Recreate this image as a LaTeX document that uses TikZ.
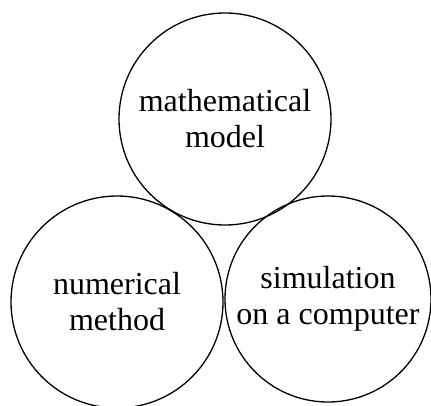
\documentclass[tikz,border=0pt]{standalone}
\usepackage{fontspec}
\setmainfont{Liberation Serif}
\usepackage{tikz}
\usetikzlibrary{positioning, calc}

\begin{document}
\begin{tikzpicture}[x=1pt, y=1pt,
  bolha/.style={draw, circle, line width=1.3pt, inner sep=0pt, align=center,
    font=\fontsize{32}{36}\selectfont}]
% --- AREA DO DESENHO ---
\useasboundingbox (0,0) rectangle (431,405);

% LAYER 1: Circulo de cima
\node[bolha, minimum size=212pt] (modelo) at (225,286) {mathematical\\model};

% LAYER 2: Circulos de baixo
\node[bolha, minimum size=212pt] (metodo) at (117,103) {numerical\\method};
\node[bolha, minimum size=206pt] (simul) at (328,106) {simulation\\on a computer};
\end{tikzpicture}
\end{document}
